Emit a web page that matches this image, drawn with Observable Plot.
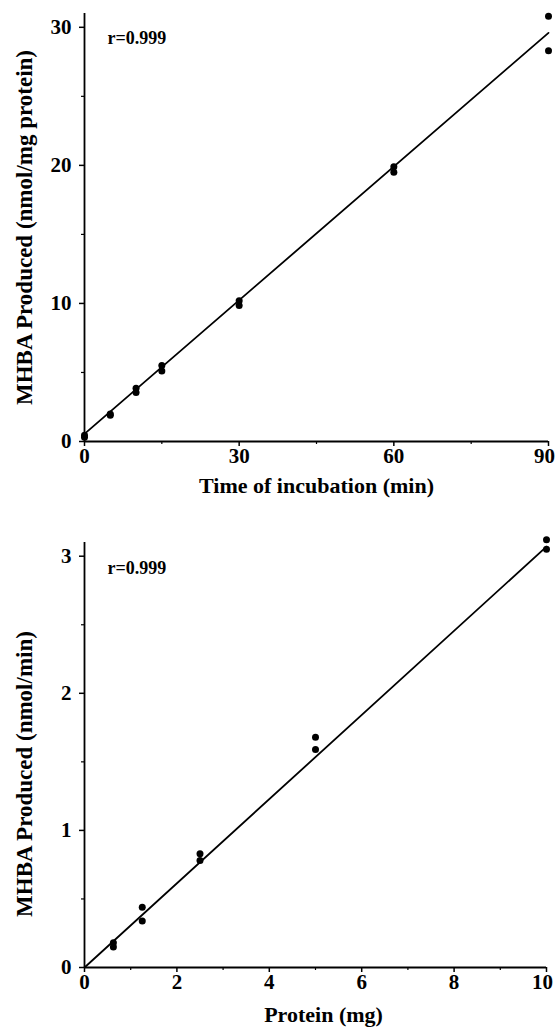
<!DOCTYPE html>
<html>
<head>
<meta charset="utf-8">
<script src="https://cdn.jsdelivr.net/npm/d3@7"></script>
<script src="https://cdn.jsdelivr.net/npm/@observablehq/plot@0.6"></script>
<style>
  html, body { margin: 0; padding: 0; background: #fff; }
  #chart svg { display: block; }
  #chart g[aria-label$="tick label"] text { font-size: 21px !important; font-weight: bold !important; fill: #000; }
</style>
</head>
<body>
<div id="chart"></div>
<script>
// Panel A: time course
const timeMin   = [0, 0, 5, 5, 10, 10, 15, 15, 30, 30, 60, 60, 90, 90];
const mhbaTime  = [0.3, 0.45, 1.9, 2.0, 3.55, 3.85, 5.1, 5.5, 9.85, 10.2, 19.5, 19.9, 30.8, 28.3];
const fitTimeX  = [0, 90];
const fitTimeY  = [0.55, 29.6];
const timeTicks = [0, 30, 60, 90];
const timeMinor = [15, 45, 75];
const mhbaTicksA = [0, 10, 20, 30];
const mhbaMinorA = [5, 15, 25];

// Panel B: protein dependence
const proteinMg  = [0.625, 0.625, 1.25, 1.25, 2.5, 2.5, 5, 5, 10, 10];
const mhbaRate   = [0.18, 0.15, 0.44, 0.34, 0.83, 0.78, 1.68, 1.59, 3.12, 3.05];
const fitProtX   = [0, 10];
const fitProtY   = [0, 3.07];
const protTicks  = [0, 2, 4, 6, 8, 10];
const protMinor  = [1, 3, 5, 7, 9];
const mhbaTicksB = [0, 1, 2, 3];
const mhbaMinorB = [0.5, 1.5, 2.5];

const FONT = "Liberation Serif, Times New Roman, serif";

function panel({xs, ys, fx, fy, xDomain, yDomain, xTicks, xMinor, yTicks, yMinor,
                xTitle, yTitle, height, marginTop, marginBottom, marginRight,
                xTitleDy, xTitleDx, yTitleDy, rDy}) {
  const pts = xs.map((x, i) => ({x, y: ys[i]}));
  const fit = fx.map((x, i) => ({x, y: fy[i]}));
  const lastTick = xTicks[xTicks.length - 1];
  return Plot.plot({
    width: 556,
    height,
    marginLeft: 84,
    marginRight,
    marginTop,
    marginBottom,
    style: {fontFamily: FONT, fontSize: "21px", fontWeight: "bold", background: "#fff", color: "#000", overflow: "visible"},
    x: {domain: xDomain},
    y: {domain: yDomain},
    marks: [
      Plot.axisX({ticks: xTicks.slice(0, -1), tickSize: 5, tickPadding: 2, strokeWidth: 1.5, label: null, tickFormat: d3.format("d")}),
      Plot.axisX({ticks: [lastTick], tickSize: 5, text: null, strokeWidth: 1.5, label: null}),
      Plot.axisX({ticks: [lastTick], tickSize: 5, tickPadding: 2, tickFormat: d3.format("d"), stroke: "none", label: null, dx: -4}),
      Plot.axisX({ticks: xMinor, tickSize: 3, text: null, strokeWidth: 1.2, label: null}),
      Plot.axisY({ticks: yTicks, tickSize: 5, tickPadding: 8, strokeWidth: 1.5, label: null, tickFormat: d3.format("d")}),
      Plot.axisY({ticks: yMinor, tickSize: 3, text: null, strokeWidth: 1.2, label: null}),
      Plot.ruleX([xDomain[0]], {stroke: "#000", strokeWidth: 1.8}),
      Plot.ruleY([yDomain[0]], {stroke: "#000", strokeWidth: 1.8}),
      Plot.line(fit, {x: "x", y: "y", stroke: "#000", strokeWidth: 1.8}),
      Plot.dot(pts, {x: "x", y: "y", r: 3.5, fill: "#000", stroke: "none"}),
      Plot.text(["r=0.999"], {frameAnchor: "top-left", dx: 23, dy: rDy, textAnchor: "start", lineAnchor: "middle",
        fontSize: 18, fontWeight: "bold", fontFamily: FONT, letterSpacing: "-0.8px", fill: "#000"}),
      Plot.text([xTitle], {frameAnchor: "bottom", dx: xTitleDx, dy: xTitleDy, textAnchor: "middle", lineAnchor: "middle",
        fontSize: 22, fontWeight: "bold", fontFamily: FONT, fill: "#000"}),
      Plot.text([yTitle], {frameAnchor: "left", dx: -60, dy: yTitleDy, rotate: -90, textAnchor: "middle", lineAnchor: "middle",
        fontSize: 23, fontWeight: "bold", fontFamily: FONT, fill: "#000"})
    ]
  });
}

const chart = document.getElementById("chart");
chart.append(panel({
  xs: timeMin, ys: mhbaTime, fx: fitTimeX, fy: fitTimeY,
  xDomain: [0, 90], yDomain: [0, 31],
  xTicks: timeTicks, xMinor: timeMinor, yTicks: mhbaTicksA, yMinor: mhbaMinorA,
  xTitle: "Time of incubation (min)", yTitle: "MHBA Produced (nmol/mg protein)",
  height: 500, marginTop: 13, marginBottom: 59, marginRight: 8,
  xTitleDy: 44, xTitleDx: 0, yTitleDy: 0, rDy: 25
}));
chart.append(panel({
  xs: proteinMg, ys: mhbaRate, fx: fitProtX, fy: fitProtY,
  xDomain: [0, 10], yDomain: [0, 3.1],
  xTicks: protTicks, xMinor: protMinor, yTicks: mhbaTicksB, yMinor: mhbaMinorB,
  xTitle: "Protein (mg)", yTitle: "MHBA Produced (nmol/min)",
  height: 531, marginTop: 42, marginBottom: 64, marginRight: 10,
  xTitleDy: 47, xTitleDx: 8, yTitleDy: 19, rDy: 26
}));
</script>
</body>
</html>
